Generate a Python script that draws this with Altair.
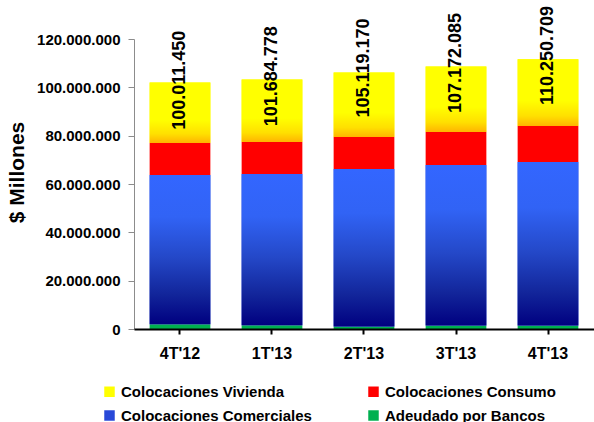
import altair as alt
import pandas as pd

# Quarterly loan portfolio, in $ millones
periodos = ["4T'12", "1T'13", "2T'13", "3T'13", "4T'13"]
series = [
    "Colocaciones Vivienda",
    "Colocaciones Consumo",
    "Colocaciones Comerciales",
    "Adeudado por Bancos",
]
adeudado = [2_000_000, 1_600_000, 1_000_000, 1_500_000, 1_400_000]
comerciales = [61_700_000, 62_500_000, 65_200_000, 66_400_000, 67_700_000]
consumo = [13_300_000, 13_300_000, 13_200_000, 13_600_000, 14_900_000]
vivienda = [25_011_450, 25_884_778, 26_719_170, 27_172_085, 27_650_709]

colores = ["#FFFF00", "#FF0000", "#2848D8", "#00B050"]
FONT = "Liberation Sans, Arial, sans-serif"

# long table, stacking order from the bottom up
rows = []
for i, p in enumerate(periodos):
    for orden, (serie, vals) in enumerate(
        [(series[3], adeudado), (series[2], comerciales), (series[1], consumo), (series[0], vivienda)]
    ):
        rows.append({"periodo": p, "serie": serie, "valor": vals[i], "orden": orden})
df = pd.DataFrame(rows)

x_enc = alt.X(
    "periodo:N",
    sort=periodos,
    title=None,
    scale=alt.Scale(paddingInner=0.34, paddingOuter=0.17),
    axis=alt.Axis(
        labelAngle=0,
        labelFont=FONT,
        labelFontSize=16,
        labelFontWeight="bold",
        labelColor="black",
        labelPadding=11,
        domainColor="black",
        domainWidth=2,
        tickColor="black",
        tickWidth=2,
        tickSize=5,
        zindex=1,
    ),
)

y_enc = alt.Y(
    "y0:Q",
    title="$ Millones",
    scale=alt.Scale(domain=[0, 120_000_000], nice=False),
    axis=alt.Axis(
        values=[0, 20_000_000, 40_000_000, 60_000_000, 80_000_000, 100_000_000, 120_000_000],
        labelExpr="replace(format(datum.value, ','), regexp(',', 'g'), '.')",
        labelFont=FONT,
        labelFontSize=15,
        labelFontWeight="bold",
        labelColor="black",
        labelPadding=8,
        domainColor="#8C8C8C",
        domainWidth=1,
        tickColor="#8C8C8C",
        tickSize=6,
        grid=False,
        titleFont=FONT,
        titleFontSize=21,
        titleFontWeight="bold",
        titleColor="black",
        titlePadding=9,
        titleY=133,
    ),
)

stacked = alt.Chart(df).transform_stack(
    stack="valor",
    groupby=["periodo"],
    as_=["y0", "y1"],
    sort=[alt.SortField("orden", order="ascending")],
)

base = stacked.mark_bar().encode(
    x=x_enc,
    y=y_enc,
    y2="y1:Q",
    color=alt.Color(
        "serie:N",
        scale=alt.Scale(domain=series, range=colores),
        legend=alt.Legend(
            title=None,
            orient="none",
            direction="horizontal",
            legendX=-32,
            legendY=345,
            columns=2,
            columnPadding=54,
            rowPadding=8,
            symbolType="square",
            symbolSize=110,
            symbolStrokeWidth=0,
            labelFont=FONT,
            labelFontSize=15,
            labelFontWeight="bold",
            labelColor="black",
            labelOffset=4,
            labelLimit=300,
        ),
    ),
)

grad_vivienda = alt.Gradient(
    gradient="linear",
    x1=0, x2=0, y1=0, y2=1,
    stops=[
        alt.GradientStop(offset=0, color="#FFFF00"),
        alt.GradientStop(offset=0.62, color="#FFFF00"),
        alt.GradientStop(offset=0.85, color="#FFE000"),
        alt.GradientStop(offset=1, color="#FFB400"),
    ],
)

grad_comerciales = alt.Gradient(
    gradient="linear",
    x1=0, x2=0, y1=0, y2=1,
    stops=[
        alt.GradientStop(offset=0, color="#3366FF"),
        alt.GradientStop(offset=0.28, color="#3163F5"),
        alt.GradientStop(offset=0.55, color="#2448C8"),
        alt.GradientStop(offset=0.8, color="#12259A"),
        alt.GradientStop(offset=1, color="#000080"),
    ],
)

capa_vivienda = stacked.transform_filter(
    alt.datum.serie == "Colocaciones Vivienda"
).mark_bar(fill=grad_vivienda).encode(x=x_enc, y=y_enc, y2="y1:Q")

capa_comerciales = stacked.transform_filter(
    alt.datum.serie == "Colocaciones Comerciales"
).mark_bar(fill=grad_comerciales).encode(x=x_enc, y=y_enc, y2="y1:Q")

# total loans (without interbank) written vertically above each bar
etiquetas = (
    alt.Chart(df)
    .transform_filter(alt.datum.serie != "Adeudado por Bancos")
    .transform_aggregate(total="sum(valor)", groupby=["periodo"])
    .transform_calculate(txt="replace(format(datum.total, ','), regexp(',', 'g'), '.')")
    .mark_text(
        angle=270,
        align="center",
        baseline="middle",
        font=FONT,
        fontSize=18,
        fontWeight="bold",
        color="black",
        dx=7,
    )
    .encode(
        x=x_enc,
        y=alt.Y("total:Q"),
        text="txt:N",
    )
)

chart = (
    alt.layer(base, capa_comerciales, capa_vivienda, etiquetas)
    .properties(
        width=460,
        height=290,
        autosize=alt.AutoSizeParams(type="none"),
        padding={"left": 134, "top": 39, "right": 0, "bottom": 93},
        background="white",
    )
    .configure_view(stroke=None)
)

chart.save("out.html", embed_options={"renderer": "svg", "actions": False})
